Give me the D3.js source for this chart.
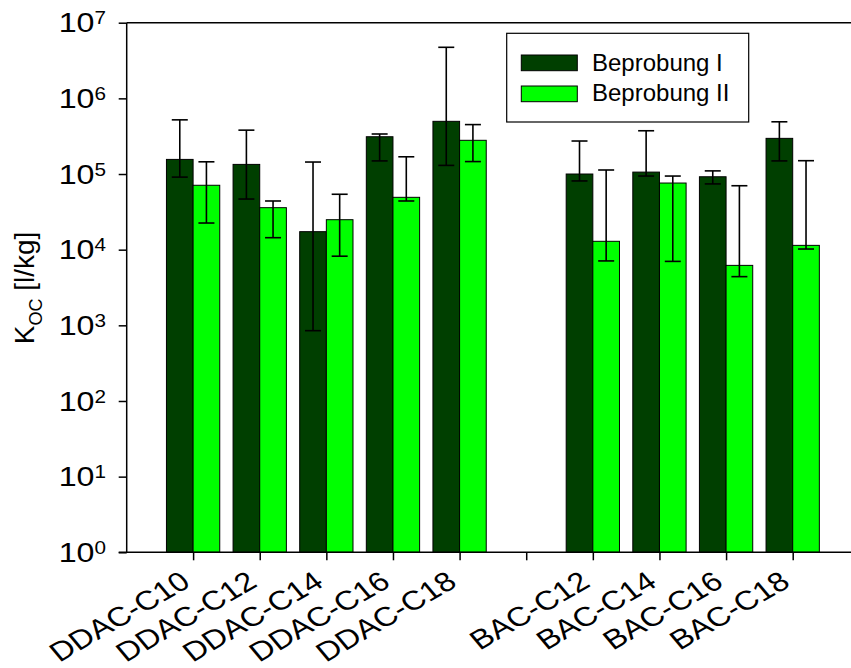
<!DOCTYPE html>
<html>
<head>
<meta charset="utf-8">
<script src="https://d3js.org/d3.v7.min.js"></script>
<style>
  body { margin: 0; background: white; }
  text { font-family: "Liberation Sans", Arial, sans-serif; fill: black; }
</style>
</head>
<body>
<script>
// KOC values per substance, two sampling campaigns, log scale

// categories (blank slot = gap between DDAC and BAC)
var categories = ["DDAC-C10", "DDAC-C12", "DDAC-C14", "DDAC-C16", "DDAC-C18", "",
                  "BAC-C12", "BAC-C14", "BAC-C16", "BAC-C18"];

// Beprobung I
var bep1   = [1.56e5, 1.34e5, 1.73e4, 3.11e5, 4.97e5, null, 1.0e5, 1.06e5, 9.2e4, 2.96e5];
var bep1Hi = [5.2e5, 3.8e5, 1.44e5, 3.38e5, 4.73e6, null, 2.73e5, 3.73e5, 1.1e5, 4.9e5];
var bep1Lo = [9.1e4, 4.67e4, 8.5e2, 1.49e5, 1.3e5, null, 8.1e4, 9.4e4, 7.4e4, 1.49e5];

// Beprobung II
var bep2   = [7.1e4, 3.59e4, 2.49e4, 4.92e4, 2.79e5, null, 1.29e4, 7.6e4, 6.2e3, 1.14e4];
var bep2Hi = [1.45e5, 4.4e4, 5.4e4, 1.69e5, 4.5e5, null, 1.13e5, 9.4e4, 7.0e4, 1.5e5];
var bep2Lo = [2.25e4, 1.44e4, 8.2e3, 4.4e4, 1.46e5, null, 7.1e3, 7.0e3, 4.4e3, 1.02e4];

var yTicks = [1, 10, 100, 1e3, 1e4, 1e5, 1e6, 1e7];
var seriesNames = ["Beprobung I", "Beprobung II"];
var colors = ["#003f00", "#00ff00"];

var width = 851, height = 668;
var plotLeft = 126.7, plotTop = 22.7, plotBottom = 552.3, plotRight = 851;

var svg = d3.select("body").append("svg")
    .attr("width", width)
    .attr("height", height);

// scales
var xScale = d3.scalePoint()
    .domain(categories.map(function(c, i) { return i; }))
    .range([193.1, 792.7]);
var step = xScale.step();
var barW = step * 0.4;

var yScale = d3.scaleLog()
    .domain([1, 1e7])
    .range([plotBottom, plotTop]);

// bars
var series = [
    {name: seriesNames[0], v: bep1, hi: bep1Hi, lo: bep1Lo, off: -barW, color: colors[0]},
    {name: seriesNames[1], v: bep2, hi: bep2Hi, lo: bep2Lo, off: 0, color: colors[1]}
];

series.forEach(function(s) {
    var rows = s.v.map(function(v, i) {
        return {i: i, v: v, hi: s.hi[i], lo: s.lo[i]};
    }).filter(function(d) { return d.v != null; });

    svg.selectAll(null)
        .data(rows)
        .enter().append("rect")
        .attr("x", function(d) { return xScale(d.i) + s.off; })
        .attr("y", function(d) { return yScale(d.v); })
        .attr("width", barW)
        .attr("height", function(d) { return plotBottom - yScale(d.v); })
        .attr("fill", s.color)
        .attr("stroke", "black")
        .attr("stroke-width", 1);

    // error bars
    var eb = svg.selectAll(null)
        .data(rows)
        .enter().append("g")
        .attr("stroke", "black")
        .attr("stroke-width", 1.6);
    eb.append("line")
        .attr("x1", function(d) { return xScale(d.i) + s.off + barW / 2; })
        .attr("x2", function(d) { return xScale(d.i) + s.off + barW / 2; })
        .attr("y1", function(d) { return yScale(d.lo); })
        .attr("y2", function(d) { return yScale(d.hi); });
    ["lo", "hi"].forEach(function(k) {
        eb.append("line")
            .attr("x1", function(d) { return xScale(d.i) + s.off + barW / 2 - 8; })
            .attr("x2", function(d) { return xScale(d.i) + s.off + barW / 2 + 8; })
            .attr("y1", function(d) { return yScale(d[k]); })
            .attr("y2", function(d) { return yScale(d[k]); });
    });
});

// axis frame lines
svg.append("line")
    .attr("x1", plotLeft).attr("x2", plotRight)
    .attr("y1", plotTop).attr("y2", plotTop)
    .attr("stroke", "black").attr("stroke-width", 1.5);
svg.append("line")
    .attr("x1", plotLeft).attr("x2", plotLeft)
    .attr("y1", plotTop).attr("y2", plotBottom)
    .attr("stroke", "black").attr("stroke-width", 1.5);
svg.append("line")
    .attr("x1", plotLeft - 8).attr("x2", plotRight)
    .attr("y1", plotBottom).attr("y2", plotBottom)
    .attr("stroke", "black").attr("stroke-width", 1.5);

// y axis
var yAxis = d3.axisLeft(yScale)
    .tickValues(yTicks)
    .tickSize(8)
    .tickFormat("");
var gy = svg.append("g")
    .attr("transform", "translate(" + plotLeft + ",0)")
    .call(yAxis);
gy.select(".domain").remove();
gy.selectAll("line").attr("stroke-width", 1.5);

// tick labels are drawn a bit wider than they are tall, like the original
var yLab = svg.selectAll(".ylab")
    .data(yTicks)
    .enter().append("text")
    .attr("class", "ylab")
    .attr("transform", function(d) {
        return "translate(106," + (yScale(d) + 9.6) + ") scale(1.15,1)";
    })
    .attr("text-anchor", "end")
    .style("font-size", "28px");
yLab.append("tspan").text("10");
yLab.append("tspan")
    .attr("dy", -8)
    .style("font-size", "18px")
    .text(function(d) { return Math.round(Math.log10(d)); });

// x axis
var xAxis = d3.axisBottom(xScale)
    .tickSize(8)
    .tickFormat("");
var gx = svg.append("g")
    .attr("transform", "translate(0," + plotBottom + ")")
    .call(xAxis);
gx.select(".domain").remove();
gx.selectAll("line").attr("stroke-width", 1.5);

svg.selectAll(".xlab")
    .data(categories)
    .enter().append("text")
    .attr("class", "xlab")
    .attr("text-anchor", "end")
    .attr("transform", function(d, i) {
        return "translate(" + (xScale(i) - 1) + "," + (plotBottom + 33) + ") scale(1.2,1) rotate(-35)";
    })
    .style("font-size", "27px")
    .text(function(d) { return d; });

// y axis title
var yt = svg.append("text")
    .attr("transform", "translate(33.5,288) rotate(-90)")
    .attr("text-anchor", "middle")
    .style("font-size", "28px");
yt.append("tspan").text("K");
yt.append("tspan").attr("dy", 8).style("font-size", "18px").text("OC");
yt.append("tspan").attr("dy", -8).text(" [l/kg]");

// legend
var lg = svg.append("g");
lg.append("rect")
    .attr("x", 506.7).attr("y", 33.3)
    .attr("width", 242).attr("height", 88.7)
    .attr("fill", "white")
    .attr("stroke", "black")
    .attr("stroke-width", 1.2);
series.forEach(function(s, i) {
    lg.append("rect")
        .attr("x", 521.3).attr("y", 55 + i * 31)
        .attr("width", 56).attr("height", 15.7)
        .attr("fill", s.color)
        .attr("stroke", "black")
        .attr("stroke-width", 1);
    lg.append("text")
        .attr("x", 592).attr("y", 70.7 + i * 30.5)
        .style("font-size", "24px")
        .text(s.name);
});
</script>
</body>
</html>
